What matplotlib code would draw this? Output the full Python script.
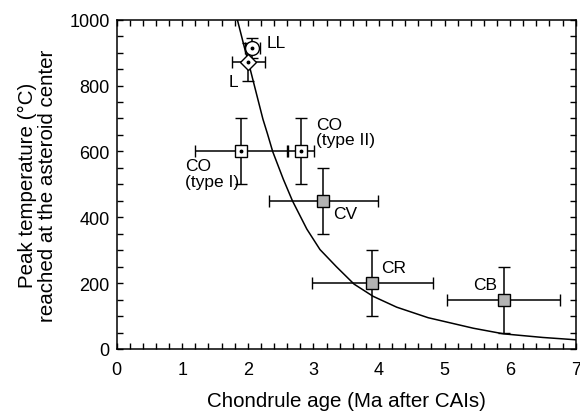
import matplotlib
matplotlib.use("Agg")
import matplotlib.pyplot as plt
from matplotlib.ticker import MultipleLocator

plt.rcParams['font.family'] = ['Liberation Sans', 'DejaVu Sans']

# Chondrite groups: age (Ma after CAIs), peak temperature (°C), errors
groups = ["LL", "L", "CO\n(type I)", "CO\n(type II)", "CV", "CR", "CB"]
age = [2.07, 2.01, 1.89, 2.81, 3.15, 3.90, 5.90]
age_err = [0.12, 0.25, 0.70, 0.20, 0.83, 0.92, 0.86]
temp = [914, 872, 600, 600, 450, 200, 150]
temp_err = [30, 57, 100, 100, 100, 100, 100]
markers = ["o", "D", "s", "s", "s", "s", "s"]
fills = ["white", "white", "white", "white", "#b3b3b3", "#b3b3b3", "#b3b3b3"]
center_dot = [True, True, True, True, False, False, False]

# Model curve
curve_age = [1.84, 1.95, 2.01, 2.23, 2.30, 2.38, 2.54, 2.68, 2.90, 3.10,
             3.35, 3.62, 3.91, 4.27, 4.75, 5.44, 5.90, 6.50, 7.00]
curve_temp = [1000, 914, 870, 698, 653, 599, 516, 450, 364, 302,
              250, 197, 160, 127, 95, 63, 46, 35, 28]

x_ticks = [0, 1, 2, 3, 4, 5, 6, 7]
y_ticks = [0, 200, 400, 600, 800, 1000]

fig = plt.figure(figsize=(5.8, 4.14), dpi=100)
ax = fig.add_axes([0.2012, 0.1546, 0.7914, 0.7954])

ax.plot(curve_age, curve_temp, color="black", lw=1.1, zorder=2)

label_cfg = {
    "LL": dict(xytext=(10, 4), ha="left", va="center"),
    "L": dict(xytext=(-11, -14), ha="center", va="center"),
    "CO\n(type I)": dict(xytext=(-40, -5), ha="left", va="top"),
    "CO\n(type II)": dict(xytext=(11, 14), ha="left", va="center"),
    "CV": dict(xytext=(7, -9), ha="left", va="center"),
    "CR": dict(xytext=(6, 11), ha="left", va="center"),
    "CB": dict(xytext=(-5, 11), ha="right", va="center"),
}

marker_size = {"o": 10, "D": 8, "s": 8.5}

for g, x, xe, y, ye, m, f, d in zip(groups, age, age_err, temp, temp_err,
                                       markers, fills, center_dot):
    ax.errorbar(x, y, xerr=xe, yerr=ye, fmt=m, ms=marker_size[m], mfc=f,
                mec="black", mew=1.0, ecolor="black", elinewidth=1.1,
                capsize=4, capthick=1.1, zorder=3)
    if d:
        ax.plot(x, y, "o", color="black", ms=1.8, zorder=4)
    cfg = label_cfg[g]
    ax.annotate(g, (x, y), textcoords="offset points", fontsize=12.5,
                linespacing=1.05, **cfg, zorder=5)

ax.set_xlim(0, 7)
ax.set_ylim(0, 1000)
ax.set_xticks(x_ticks)
ax.set_yticks(y_ticks)
ax.xaxis.set_minor_locator(MultipleLocator(0.2))
ax.yaxis.set_minor_locator(MultipleLocator(50))
ax.tick_params(which="both", direction="in", top=True, right=True,
               length=4, width=1.0, labelsize=13)
ax.tick_params(axis="x", pad=9)
ax.tick_params(axis="y", pad=5)
for s in ax.spines.values():
    s.set_linewidth(1.1)

ax.set_xlabel("Chondrule age (Ma after CAIs)", fontsize=14.8, labelpad=9)
ax.set_ylabel("Peak temperature (°C)\nreached at the asteroid center",
              fontsize=14.8, labelpad=9, linespacing=1.05)

fig.savefig("out.png", dpi=100)
